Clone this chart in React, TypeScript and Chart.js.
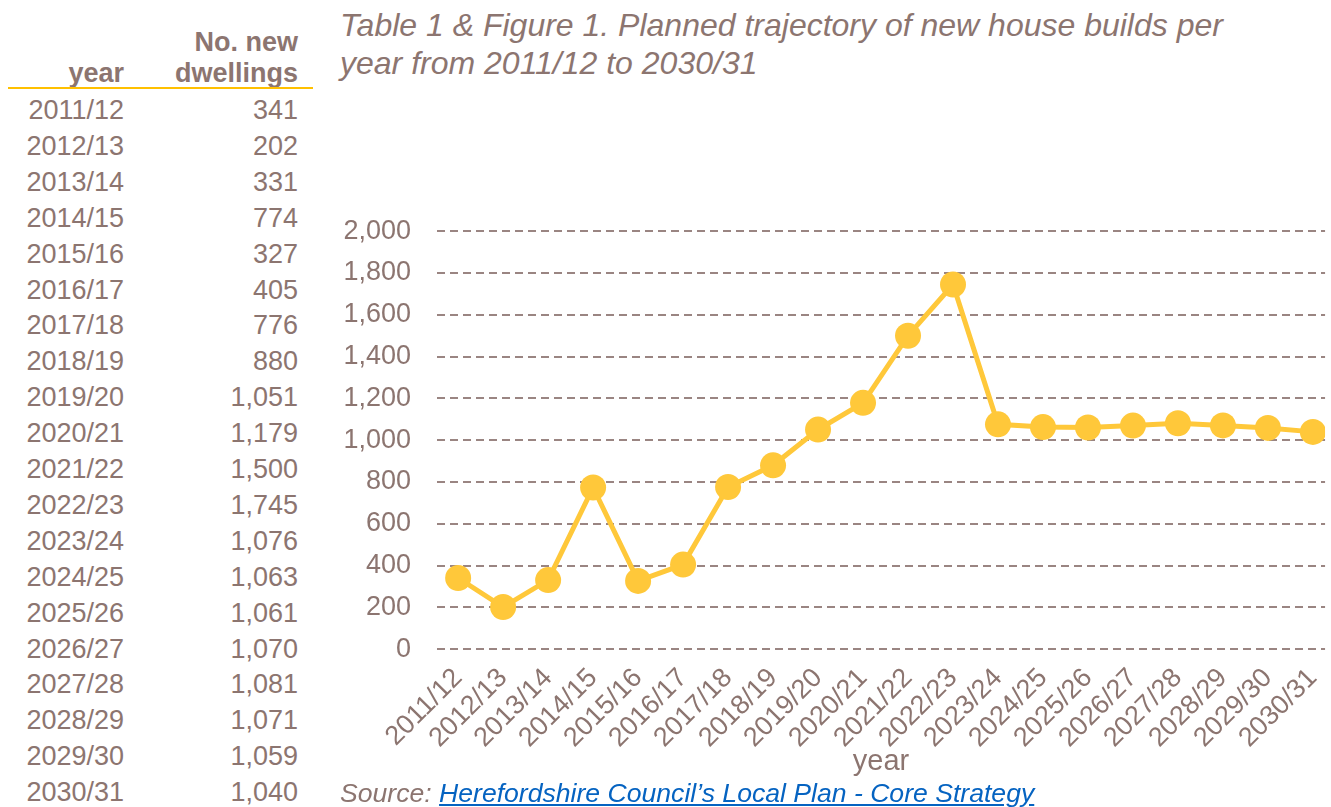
import React, { useEffect, useRef } from "react";
import { Chart, registerables } from "chart.js";

Chart.register(...registerables);

const years = [
  "2011/12", "2012/13", "2013/14", "2014/15", "2015/16", "2016/17", "2017/18",
  "2018/19", "2019/20", "2020/21", "2021/22", "2022/23", "2023/24", "2024/25",
  "2025/26", "2026/27", "2027/28", "2028/29", "2029/30", "2030/31",
];
const dwellings = [
  341, 202, 331, 774, 327, 405, 776, 880, 1051, 1179, 1500, 1745, 1076, 1063,
  1061, 1070, 1081, 1071, 1059, 1040,
];
const yTicks = [0, 200, 400, 600, 800, 1000, 1200, 1400, 1600, 1800, 2000];

const TEXT = "#8c7570";
const GOLD = "#FFC83A";
const FONT = "'Liberation Sans', Arial, sans-serif";

const fmt = (v: number) => v.toLocaleString("en-US");

function LineChart() {
  const ref = useRef<HTMLCanvasElement | null>(null);
  useEffect(() => {
    if (!ref.current) return;
    const chart = new Chart(ref.current, {
      type: "line",
      data: {
        datasets: [
          {
            data: dwellings.map((v, i) => ({ x: i, y: v })),
            borderColor: GOLD,
            backgroundColor: GOLD,
            borderWidth: 5,
            pointRadius: 13,
            pointHoverRadius: 13,
            pointBackgroundColor: GOLD,
            pointBorderWidth: 0,
            tension: 0,
          },
        ],
      },
      options: {
        animation: false,
        responsive: false,
        maintainAspectRatio: false,
        layout: { padding: { top: 0, right: 0, bottom: 0, left: 0 } },
        plugins: {
          legend: { display: false },
          tooltip: { enabled: false },
        },
        scales: {
          x: {
            type: "linear",
            min: -0.47,
            max: 19.27,
            afterBuildTicks: (axis: any) => {
              axis.ticks = years.map((_, i) => ({ value: i }));
            },
            ticks: {
              autoSkip: false,
              maxRotation: 45,
              minRotation: 45,
              color: TEXT,
              padding: 13,
              font: { family: FONT, size: 27 },
              callback: (v: any) => years[Math.round(Number(v))] ?? "",
            },
            grid: { display: false, drawTicks: false },
            border: { display: false },
            title: {
              display: true,
              text: "year",
              color: TEXT,
              font: { family: FONT, size: 29 },
              padding: { top: -23, bottom: 28 },
            },
          },
          y: {
            min: 0,
            max: 2000,
            afterBuildTicks: (axis: any) => {
              axis.ticks = yTicks.map((v) => ({ value: v }));
            },
            afterFit: (axis: any) => {
              axis.width = 107;
            },
            ticks: {
              color: TEXT,
              padding: 26,
              font: { family: FONT, size: 27 },
              callback: (v: any) => fmt(Number(v)),
            },
            grid: { color: "#9a8582", lineWidth: 2, drawTicks: false },
            border: { display: false, dash: [8, 5] },
          },
        },
      },
    });
    return () => chart.destroy();
  }, []);
  return (
    <canvas
      ref={ref}
      width={1019}
      height={618}
      style={{ position: "absolute", left: 330, top: 189, width: 1019, height: 618 }}
    />
  );
}

export default function App() {
  const rowTop = 92;
  const rowH = 35.9;
  return (
    <div
      style={{
        position: "absolute",
        left: 0,
        top: 0,
        width: 1331,
        height: 807,
        overflow: "hidden",
        fontFamily: FONT,
        color: TEXT,
        background: "#fff",
      }}
    >
      {/* table header */}
      <div style={{ position: "absolute", left: 120, top: 27, width: 178, textAlign: "right", fontWeight: "bold", fontSize: 27, lineHeight: "31px" }}>
        No. new
        <br />
        dwellings
      </div>
      <div style={{ position: "absolute", left: 10, top: 58, width: 114, textAlign: "right", fontWeight: "bold", fontSize: 27, lineHeight: "31px" }}>
        year
      </div>
      <div style={{ position: "absolute", left: 8, top: 87, width: 305, height: 2, background: "#FFC000" }} />
      {years.map((y, i) => (
        <React.Fragment key={y}>
          <div style={{ position: "absolute", left: 0, top: rowTop + i * rowH, width: 124, textAlign: "right", fontSize: 27, lineHeight: "36px" }}>
            {y}
          </div>
          <div style={{ position: "absolute", left: 150, top: rowTop + i * rowH, width: 148, textAlign: "right", fontSize: 27, lineHeight: "36px" }}>
            {fmt(dwellings[i])}
          </div>
        </React.Fragment>
      ))}
      {/* title */}
      <div style={{ position: "absolute", left: 340, top: 6, width: 990, fontStyle: "italic", fontSize: 32, lineHeight: "38px", whiteSpace: "nowrap" }}>
        Table 1 &amp; Figure 1. Planned trajectory of new house builds per
        <br />
        year from 2011/12 to 2030/31
      </div>
      <LineChart />
      {/* source */}
      <div style={{ position: "absolute", left: 340, top: 778, fontStyle: "italic", fontSize: 26.6, lineHeight: "30px", whiteSpace: "nowrap" }}>
        Source:{" "}
        <a href="#" style={{ color: "#0563C1", textDecoration: "underline" }}>
          Herefordshire Council’s Local Plan - Core Strategy
        </a>
      </div>
    </div>
  );
}
